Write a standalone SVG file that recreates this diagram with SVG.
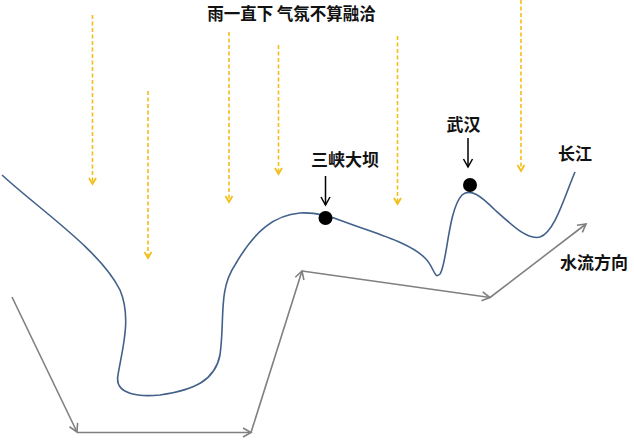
<svg xmlns="http://www.w3.org/2000/svg" width="634" height="443" viewBox="0 0 634 443">
  <style>
    .lbl { font-family: "Noto Sans CJK SC", "Noto Sans", sans-serif; font-weight: 700; font-size: 17px; fill: #111; text-anchor: middle; }
    .rain { stroke: #F2BE1A; stroke-width: 1.6; stroke-dasharray: 4 2.5; fill: none; marker-end: url(#rainHead); }
    .flow { stroke: #808080; stroke-width: 1.6; fill: none; marker-end: url(#grayHead); }
    .ptr { stroke: #000; stroke-width: 1.5; fill: none; marker-end: url(#blackHead); }
  </style>
  <defs>
    <marker id="rainHead" markerUnits="userSpaceOnUse" markerWidth="10" markerHeight="10" refX="7" refY="4" orient="auto" viewBox="0 0 10 8">
      <path d="M1,0.5 L7,4 L1,7.5" fill="none" stroke="#F2BE1A" stroke-width="1.8" stroke-dasharray="none"/>
    </marker>
    <marker id="grayHead" markerUnits="userSpaceOnUse" markerWidth="12" markerHeight="12" refX="9" refY="5" orient="auto" viewBox="0 0 12 10">
      <path d="M1,0.5 L9,5 L1,9.5" fill="none" stroke="#808080" stroke-width="1.6"/>
    </marker>
    <marker id="blackHead" markerUnits="userSpaceOnUse" markerWidth="12" markerHeight="12" refX="9" refY="5" orient="auto" viewBox="0 0 12 10">
      <path d="M1,0.5 L9,5 L1,9.5" fill="none" stroke="#000" stroke-width="1.5"/>
    </marker>
  </defs>
  <rect width="634" height="443" fill="#fff"/>

  <g id="title">
    <text class="lbl" x="291.5" y="20" style="font-size:16.5px">雨一直下 气氛不算融洽</text>
  </g>

  <g id="rain">
    <line class="rain" x1="92.5" y1="15" x2="92.5" y2="184"/>
    <line class="rain" x1="148" y1="91" x2="148" y2="258"/>
    <line class="rain" x1="229" y1="32" x2="229" y2="202"/>
    <line class="rain" x1="278.5" y1="45" x2="278.5" y2="174"/>
    <line class="rain" x1="397.5" y1="36" x2="397.5" y2="204"/>
    <line class="rain" x1="521" y1="0" x2="521" y2="171"/>
  </g>

  <g id="river">
    <path d="M2,175 C40,210 100,250 120,290 C132,318 122,350 118,375 C114,395 140,397 160,395 C195,390 215,380 220,355 C225,320 218,290 235,265 C255,230 275,215 300,213 C315,212 330,216 345,222 C380,235 410,243 425,258 C435,268 434,280 440,274 C447,265 448,210 462,195 C470,188 480,195 495,210 C515,228 528,240 540,237 C555,232 565,195 575,172" fill="none" stroke="#41608A" stroke-width="1.6"/>
    <text class="lbl" x="575" y="160">长江</text>
  </g>

  <g id="sanxia">
    <circle cx="325.5" cy="218" r="7" fill="#000"/>
    <text class="lbl" x="345" y="166">三峡大坝</text>
  </g>

  <g id="wuhan">
    <circle cx="470" cy="185" r="7" fill="#000"/>
    <text class="lbl" x="463.5" y="131">武汉</text>
  </g>

  <g id="flowLabel">
    <text class="lbl" x="594" y="269">水流方向</text>
  </g>

  <g id="connectors">
    <line class="ptr" x1="325.5" y1="176" x2="325.5" y2="205"/>
    <line class="ptr" x1="468" y1="138" x2="468" y2="167"/>
    <line class="flow" x1="12" y1="297" x2="77" y2="432"/>
    <line class="flow" x1="77" y1="432.5" x2="251" y2="432.5"/>
    <line class="flow" x1="251" y1="432.5" x2="302" y2="271"/>
    <line class="flow" x1="302" y1="271" x2="490" y2="297.5"/>
    <line class="flow" x1="490" y1="297.5" x2="586" y2="224"/>
  </g>
</svg>
